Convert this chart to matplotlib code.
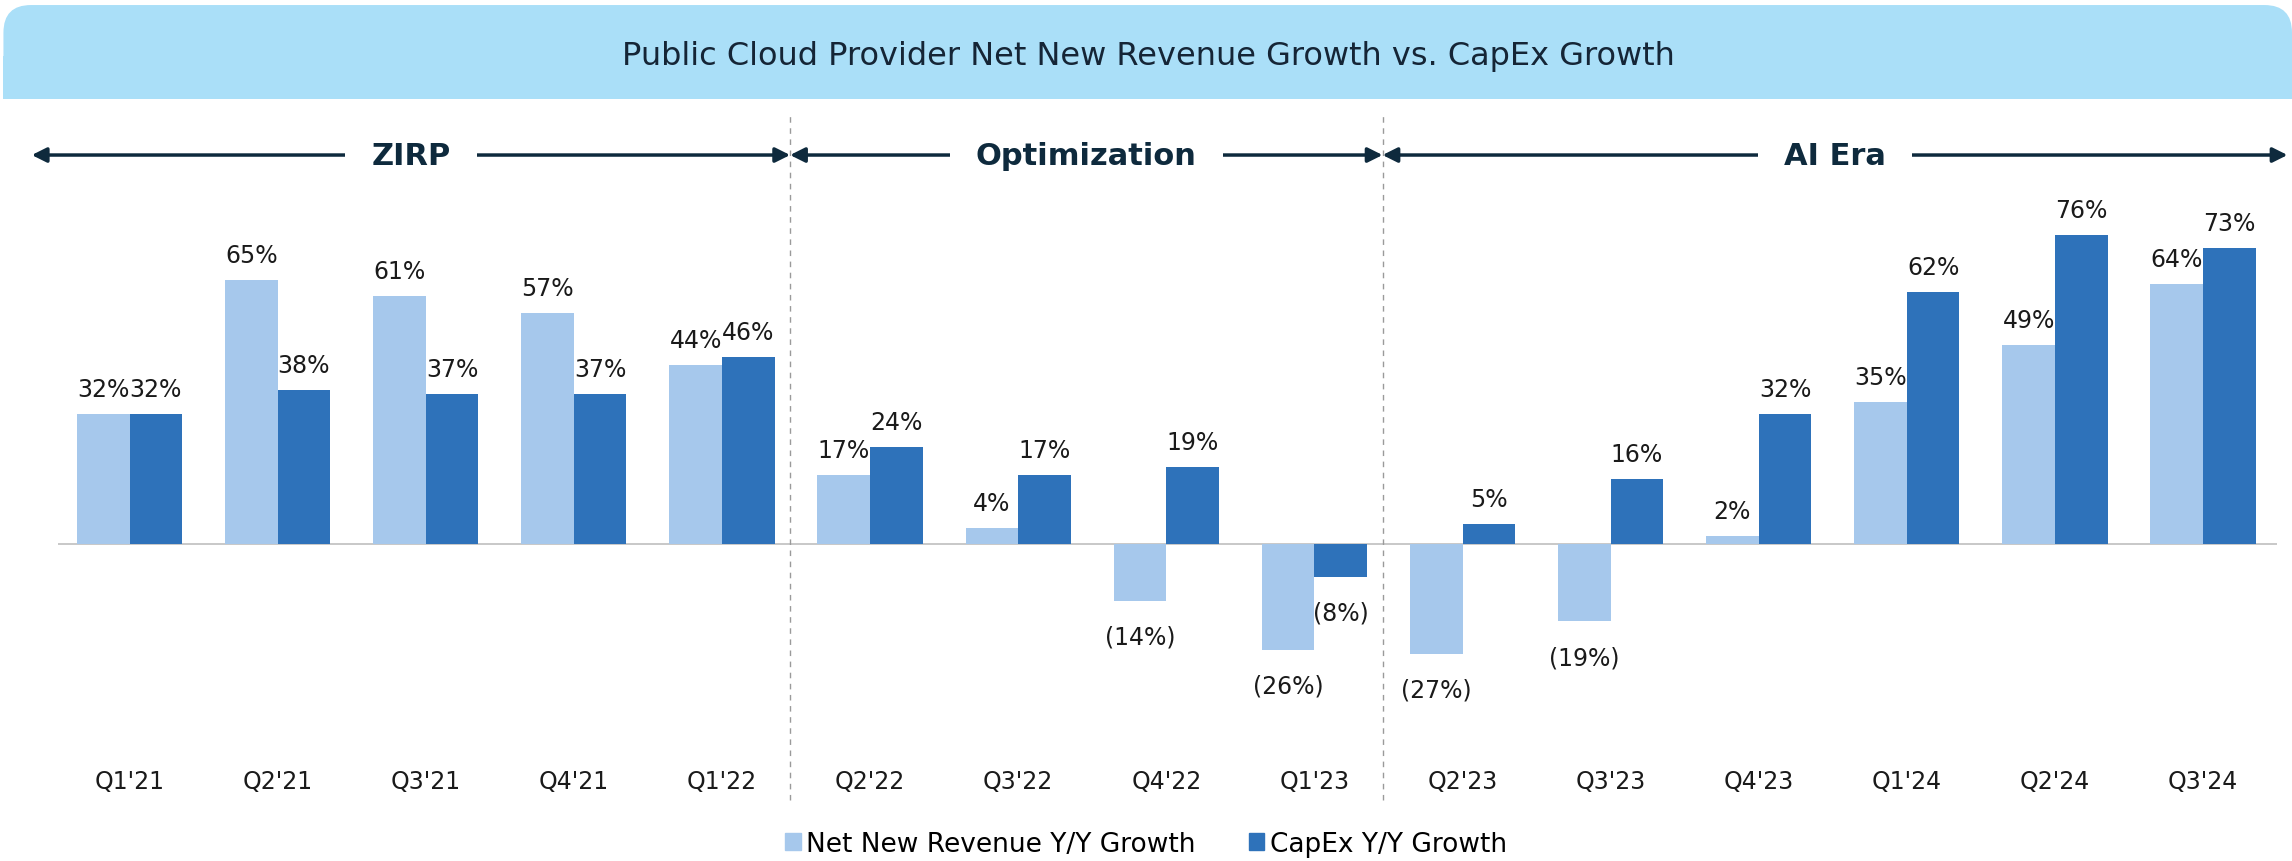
import matplotlib.pyplot as plt
import numpy as np
from matplotlib.patches import FancyBboxPatch, Rectangle, Patch

plt.rcParams['font.family'] = ['DejaVu Sans']

# data
quarters = ["Q1'21", "Q2'21", "Q3'21", "Q4'21", "Q1'22", "Q2'22", "Q3'22", "Q4'22",
            "Q1'23", "Q2'23", "Q3'23", "Q4'23", "Q1'24", "Q2'24", "Q3'24"]
revenue_growth = [32, 65, 61, 57, 44, 17, 4, -14, -26, -27, -19, 2, 35, 49, 64]
capex_growth = [32, 38, 37, 37, 46, 24, 17, 19, -8, 5, 16, 32, 62, 76, 73]
eras = ["ZIRP", "Optimization", "AI Era"]
era_bounds = [(-0.66, 4.46), (4.46, 8.46), (8.46, 14.57)]

light = '#A6C8EC'
dark = '#2E72BA'
navy = '#0E2A3D'
txt = '#1A1A1A'

fig = plt.figure(figsize=(22.92, 8.62), dpi=100)

# title banner, rounded on top only
banner = FancyBboxPatch((0.0015, 0.886), 0.9985, 0.107, boxstyle='round,pad=0,rounding_size=0.012',
                        transform=fig.transFigure, facecolor='#AADFF8', edgecolor='none',
                        mutation_aspect=2.66)
fig.patches.append(banner)
fig.patches.append(Rectangle((0.0015, 0.884), 0.9985, 0.05, transform=fig.transFigure,
                             facecolor='#AADFF8', edgecolor='none'))
fig.text(0.501, 0.935, 'Public Cloud Provider Net New Revenue Growth vs. CapEx Growth',
         ha='center', va='center', fontsize=23, color='#152536')

ax = fig.add_axes([0.0255, 0.0719, 0.968, 0.7657])
x = np.arange(len(quarters))
w = 0.355
b1 = ax.bar(x - w / 2, revenue_growth, w, color=light, label='Net New Revenue Y/Y Growth')
b2 = ax.bar(x + w / 2, capex_growth, w, color=dark, label='CapEx Y/Y Growth')

ax.set_xlim(-0.48, 14.5)
ax.set_ylim(-62.8, 99.75)
ax.axhline(0, color='#BFBFBF', lw=1.2, zorder=0)
for s in ax.spines.values():
    s.set_visible(False)
ax.set_xticks([])
ax.set_yticks([])


def fmt(v):
    return f'({abs(v)}%)' if v < 0 else f'{v}%'


for bars, vals in [(b1, revenue_growth), (b2, capex_growth)]:
    for r, v in zip(bars, vals):
        cx = r.get_x() + r.get_width() / 2
        if v >= 0:
            ax.annotate(fmt(v), (cx, v), xytext=(0, 13), textcoords='offset points',
                        ha='center', va='baseline', fontsize=17, color=txt)
        else:
            ax.annotate(fmt(v), (cx, v), xytext=(0, -31), textcoords='offset points',
                        ha='center', va='baseline', fontsize=17, color=txt)

for xi, q in zip(x, quarters):
    ax.text(xi, -58.4, q, ha='center', va='center', fontsize=17, color=txt)

# era separators
for xs in [4.46, 8.46]:
    ax.plot([xs, xs], [-63, 106], ls=(0, (4, 4)), color='#9A9A9A', lw=1, clip_on=False)

# era arrows
for name, (a, b) in zip(eras, era_bounds):
    ax.annotate('', xy=(b, 95.8), xytext=(a, 95.8),
                arrowprops=dict(arrowstyle='<|-|>', color=navy, lw=2.5, mutation_scale=22,
                                shrinkA=0, shrinkB=0), annotation_clip=False)
    ax.text((a + b) / 2, 95.8, name, ha='center', va='center', fontsize=22, fontweight='bold',
            color=navy, bbox=dict(facecolor='white', edgecolor='none', pad=19), clip_on=False)

handles = [Patch(color=light), Patch(color=dark)]
fig.legend(handles, ['Net New Revenue Y/Y Growth', 'CapEx Y/Y Growth'], loc='center',
           bbox_to_anchor=(0.5, 0.02), ncol=2, frameon=False, fontsize=19,
           handlelength=0.6, handleheight=0.6, handletextpad=0.2, columnspacing=2.0)

fig.savefig('out.png', dpi=100)
